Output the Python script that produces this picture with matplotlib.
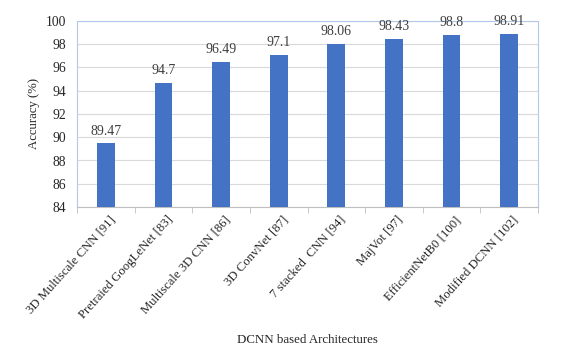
import matplotlib
matplotlib.use("Agg")
import matplotlib.pyplot as plt
import numpy as np
from matplotlib.transforms import ScaledTranslation

categories = ["3D Multiscale CNN [91]", "Pretraied GoogLeNet [83]", "Multiscale 3D CNN [86]",
              "3D ConvNet [87]", "7 stacked  CNN [94]", "MajVot [97]",
              "EfficientNetB0 [100]", "Modified DCNN [102]"]
values = [89.47, 94.7, 96.49, 97.1, 98.06, 98.43, 98.8, 98.91]
value_labels = ["89.47", "94.7", "96.49", "97.1", "98.06", "98.43", "98.8", "98.91"]
yticks = [84, 86, 88, 90, 92, 94, 96, 98, 100]

plt.rcParams['font.family'] = ['Liberation Serif', 'DejaVu Serif']
fig = plt.figure(figsize=(5.61, 3.60), dpi=100)
ax = fig.add_axes([77/561, 1 - 207/360, (538-77)/561, (207-21)/360])

x = np.arange(len(categories))
bars = ax.bar(x, values, width=0.31, color="#4472C4", zorder=3)
for xi, v, lab in zip(x, values, value_labels):
    ax.text(xi, v + 0.5, lab, ha="center", va="bottom", fontsize=10, color="#404040")

ax.set_ylim(84, 100)
ax.set_xlim(-0.5, len(categories) - 0.5)
ax.set_yticks(yticks)
ax.set_yticklabels([str(t) for t in yticks], fontsize=9.8, color="#262626")
ax.yaxis.grid(True, color="#D9D9D9", linewidth=0.8, zorder=0)
ax.tick_params(axis="y", length=0, pad=8)

ax.set_xticks(x)
ax.set_xticklabels(categories, rotation=48, ha="right", rotation_mode="anchor",
                   fontsize=9.2, color="#262626")
ax.tick_params(axis="x", length=0, pad=5)
offset = ScaledTranslation(3/100, 0, fig.dpi_scale_trans)
for lbl in ax.get_xticklabels():
    lbl.set_transform(lbl.get_transform() + offset)
ax.set_xticks(np.arange(-0.5, len(categories)), minor=True)
ax.tick_params(axis="x", which="minor", length=4, color="#BFBFBF")

for side in ["top", "left", "right"]:
    ax.spines[side].set_color("#B4C7E7")
    ax.spines[side].set_linewidth(0.8)
ax.spines["bottom"].set_color("#BFBFBF")
ax.spines["bottom"].set_linewidth(0.8)

ax.set_ylabel("Accuracy (%)", fontsize=9.2, color="#262626", labelpad=4)
fig.text((77+538)/2/561, 1 - 340/360, "DCNN based Architectures", ha="center", va="center",
         fontsize=9.3, color="#262626")

fig.savefig("out.png", dpi=100)
